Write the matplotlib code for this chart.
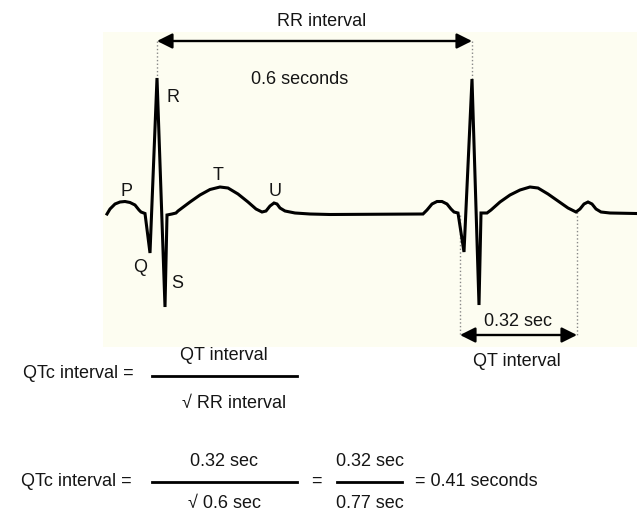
import matplotlib
matplotlib.use('Agg')
import matplotlib.pyplot as plt
from matplotlib.patches import Rectangle

plt.rcParams['font.family'] = ['Liberation Sans', 'DejaVu Sans']

# ECG trace (x = time, y = deflection, image pixel units)
ecg_x = [107, 110, 115, 120, 125, 130, 135, 139, 141, 145, 150, 157, 165, 167, 172, 176, 178,
         190, 200, 210, 220, 228, 238, 248, 256, 262, 266, 270, 274, 277, 280, 285, 295, 310, 330,
         423, 427, 432, 437, 442, 447, 451, 454, 458, 464, 472, 479, 481, 487, 491,
         500, 510, 520, 530, 538, 548, 558, 568, 576, 580, 584, 588, 592, 596, 601, 610, 636]
ecg_y = [214, 209, 204, 202, 201.5, 202.5, 205, 210, 212, 213.5, 253, 78, 307, 215, 214, 213, 211,
         202, 195, 189.5, 187, 188, 194, 202, 209, 212, 211, 206, 203, 204, 208, 211, 213, 214, 214.5,
         214, 210, 204, 201.5, 201.5, 204, 209, 212, 213, 252, 79, 305, 213, 213, 210,
         202, 195, 190, 187, 188, 194, 201, 208, 212, 209, 204, 202, 204, 209, 212, 213, 213.5]

wave_labels = ['P', 'Q', 'R', 'S', 'T', 'U']
wave_label_x = [127, 140, 173, 177, 218, 275]
wave_label_y = [191, 267, 98, 284, 175, 191]

# interval markers
r_peaks_x = [157, 472]
r_peaks_y = [78, 79]
rr_arrow_y = 41
qt_start = (460, 215)
qt_end = (577, 212)
qt_arrow_y = 335

text_color = '#151515'
fs = 13

fig = plt.figure(figsize=(6.37, 5.12), dpi=100)
ax = fig.add_axes([0, 0, 1, 1])
ax.set_xlim(0, 637)
ax.set_ylim(512, 0)
ax.axis('off')

# cream panel behind the trace
ax.add_patch(Rectangle((103, 32), 534, 315, facecolor='#fdfdf1', edgecolor='none', zorder=0))

ax.plot(ecg_x, ecg_y, color='black', lw=2.2, solid_joinstyle='miter', zorder=3)

for lab, lx, ly in zip(wave_labels, wave_label_x, wave_label_y):
    ax.text(lx, ly, lab, fontsize=fs, color=text_color, ha='center', va='center')

arrow_style = dict(arrowstyle='<|-|>', color='black', lw=1.7, mutation_scale=23,
                   shrinkA=0, shrinkB=0)

# RR interval
for px, py in zip(r_peaks_x, r_peaks_y):
    ax.plot([px, px], [rr_arrow_y, py], color='#888888', lw=1, ls=':', zorder=2)
ax.annotate('', xy=(r_peaks_x[1], rr_arrow_y), xytext=(r_peaks_x[0], rr_arrow_y),
            arrowprops=arrow_style)
ax.text(322, 22, 'RR interval', fontsize=fs, color=text_color, ha='center', va='center')
ax.text(300, 79, '0.6 seconds', fontsize=fs, color=text_color, ha='center', va='center')

# QT interval
for px, py in [qt_start, qt_end]:
    ax.plot([px, px], [py, qt_arrow_y], color='#888888', lw=1, ls=':', zorder=2)
ax.annotate('', xy=(qt_end[0], qt_arrow_y), xytext=(qt_start[0], qt_arrow_y),
            arrowprops=arrow_style)
ax.text(518, 321, '0.32 sec', fontsize=fs, color=text_color, ha='center', va='center')
ax.text(517, 362, 'QT interval', fontsize=fs, color=text_color, ha='center', va='center')

# formulas
ax.text(23, 374, 'QTc interval =', fontsize=fs, color=text_color, ha='left', va='center')
ax.plot([152, 297], [376, 376], color='black', lw=2)
ax.text(224, 355, 'QT interval', fontsize=fs, color=text_color, ha='center', va='center')
ax.text(234, 403, '\u221a RR interval', fontsize=fs, color=text_color, ha='center', va='center')

ax.text(21, 482, 'QTc interval =', fontsize=fs, color=text_color, ha='left', va='center')
ax.plot([152, 297], [482, 482], color='black', lw=2)
ax.text(224, 462, '0.32 sec', fontsize=fs, color=text_color, ha='center', va='center')
ax.text(225, 503, '\u221a 0.6 sec', fontsize=fs, color=text_color, ha='center', va='center')
ax.text(316, 481, '=', fontsize=fs, color=text_color, ha='center', va='center')
ax.plot([337, 402], [482, 482], color='black', lw=2)
ax.text(370, 462, '0.32 sec', fontsize=fs, color=text_color, ha='center', va='center')
ax.text(370, 503, '0.77 sec', fontsize=fs, color=text_color, ha='center', va='center')
ax.text(415, 481, '= 0.41 seconds', fontsize=fs, color=text_color, ha='left', va='center')

fig.savefig('out.png', dpi=100)
plt.close()
